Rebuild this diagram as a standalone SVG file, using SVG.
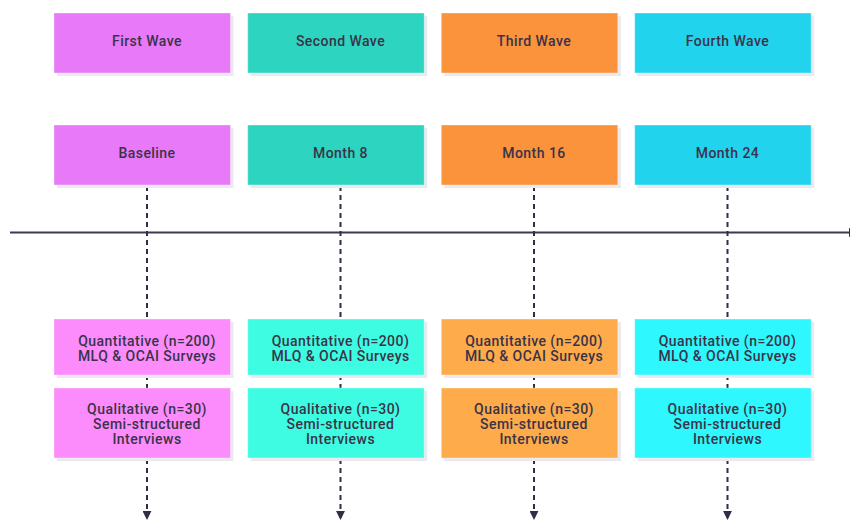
<svg xmlns="http://www.w3.org/2000/svg" width="850" height="521" viewBox="0 0 850 521">
<style>
.sh{fill:#e9e9ee}
.bx{stroke:#ffffff;stroke-opacity:0.35;stroke-width:1}
.t{font-family:Roboto,"Liberation Sans",sans-serif;font-weight:500;font-size:14px;letter-spacing:0.45px;fill:#3a3348;text-anchor:middle}
.d{stroke:#2f2e45;stroke-width:2;stroke-dasharray:5 4;fill:none}
.ax{stroke:#3b3a55;stroke-width:2;fill:none}
</style>
<defs>
<marker id="ah" viewBox="0 0 10 10" refX="9" refY="5" markerWidth="4.5" markerHeight="4.5" orient="auto" markerUnits="strokeWidth">
<path d="M0,0 L10,5 L0,10 z" fill="#2f2e45"/>
</marker>
</defs>
<g id="connectors">
<line class="ax" x1="10" y1="232.5" x2="857" y2="232.5" marker-end="url(#ah)"/>
<line class="d" x1="147" y1="186" x2="147" y2="319"/>
<line class="d" x1="147" y1="375" x2="147" y2="388"/>
<line class="d" x1="147" y1="459" x2="147" y2="519" marker-end="url(#ah)"/>
<line class="d" x1="340.5" y1="186" x2="340.5" y2="319"/>
<line class="d" x1="340.5" y1="375" x2="340.5" y2="388"/>
<line class="d" x1="340.5" y1="459" x2="340.5" y2="519" marker-end="url(#ah)"/>
<line class="d" x1="534" y1="186" x2="534" y2="319"/>
<line class="d" x1="534" y1="375" x2="534" y2="388"/>
<line class="d" x1="534" y1="459" x2="534" y2="519" marker-end="url(#ah)"/>
<line class="d" x1="727.5" y1="186" x2="727.5" y2="319"/>
<line class="d" x1="727.5" y1="375" x2="727.5" y2="388"/>
<line class="d" x1="727.5" y1="459" x2="727.5" y2="519" marker-end="url(#ah)"/>
</g>
<g id="wave1">
<rect class="sh" x="57" y="16" width="176.5" height="60"/>
<rect class="bx" x="54" y="13" width="176.5" height="60" fill="#e879f9"/>
<text class="t" x="147" y="46">First Wave</text>
</g>
<g id="wave2">
<rect class="sh" x="250.7" y="16" width="176.5" height="60"/>
<rect class="bx" x="247.7" y="13" width="176.5" height="60" fill="#2dd4bf"/>
<text class="t" x="340.5" y="46">Second Wave</text>
</g>
<g id="wave3">
<rect class="sh" x="444.3" y="16" width="176.5" height="60"/>
<rect class="bx" x="441.3" y="13" width="176.5" height="60" fill="#fb923c"/>
<text class="t" x="534" y="46">Third Wave</text>
</g>
<g id="wave4">
<rect class="sh" x="637.7" y="16" width="176.5" height="60"/>
<rect class="bx" x="634.7" y="13" width="176.5" height="60" fill="#22d3ee"/>
<text class="t" x="727.5" y="46">Fourth Wave</text>
</g>
<g id="time1">
<rect class="sh" x="57" y="128" width="176.5" height="60"/>
<rect class="bx" x="54" y="125" width="176.5" height="60" fill="#e879f9"/>
<text class="t" x="147" y="158">Baseline</text>
</g>
<g id="time2">
<rect class="sh" x="250.7" y="128" width="176.5" height="60"/>
<rect class="bx" x="247.7" y="125" width="176.5" height="60" fill="#2dd4bf"/>
<text class="t" x="340.5" y="158">Month 8</text>
</g>
<g id="time3">
<rect class="sh" x="444.3" y="128" width="176.5" height="60"/>
<rect class="bx" x="441.3" y="125" width="176.5" height="60" fill="#fb923c"/>
<text class="t" x="534" y="158">Month 16</text>
</g>
<g id="time4">
<rect class="sh" x="637.7" y="128" width="176.5" height="60"/>
<rect class="bx" x="634.7" y="125" width="176.5" height="60" fill="#22d3ee"/>
<text class="t" x="727.5" y="158">Month 24</text>
</g>
<g id="quant1">
<rect class="sh" x="57" y="322" width="176.5" height="56"/>
<rect class="bx" x="54" y="319" width="176.5" height="56" fill="#fc8cfc"/>
<text class="t" x="147" y="345.5">Quantitative (n=200)</text>
<text class="t" x="147" y="360.5">MLQ &amp; OCAI Surveys</text>
</g>
<g id="quant2">
<rect class="sh" x="250.7" y="322" width="176.5" height="56"/>
<rect class="bx" x="247.7" y="319" width="176.5" height="56" fill="#3dfce2"/>
<text class="t" x="340.5" y="345.5">Quantitative (n=200)</text>
<text class="t" x="340.5" y="360.5">MLQ &amp; OCAI Surveys</text>
</g>
<g id="quant3">
<rect class="sh" x="444.3" y="322" width="176.5" height="56"/>
<rect class="bx" x="441.3" y="319" width="176.5" height="56" fill="#fdab4b"/>
<text class="t" x="534" y="345.5">Quantitative (n=200)</text>
<text class="t" x="534" y="360.5">MLQ &amp; OCAI Surveys</text>
</g>
<g id="quant4">
<rect class="sh" x="637.7" y="322" width="176.5" height="56"/>
<rect class="bx" x="634.7" y="319" width="176.5" height="56" fill="#2ef7fd"/>
<text class="t" x="727.5" y="345.5">Quantitative (n=200)</text>
<text class="t" x="727.5" y="360.5">MLQ &amp; OCAI Surveys</text>
</g>
<g id="qual1">
<rect class="sh" x="57" y="391" width="176.5" height="70"/>
<rect class="bx" x="54" y="388" width="176.5" height="70" fill="#fc8cfc"/>
<text class="t" x="147" y="413.5">Qualitative (n=30)</text>
<text class="t" x="147" y="428.5">Semi-structured</text>
<text class="t" x="147" y="443.5">Interviews</text>
</g>
<g id="qual2">
<rect class="sh" x="250.7" y="391" width="176.5" height="70"/>
<rect class="bx" x="247.7" y="388" width="176.5" height="70" fill="#3dfce2"/>
<text class="t" x="340.5" y="413.5">Qualitative (n=30)</text>
<text class="t" x="340.5" y="428.5">Semi-structured</text>
<text class="t" x="340.5" y="443.5">Interviews</text>
</g>
<g id="qual3">
<rect class="sh" x="444.3" y="391" width="176.5" height="70"/>
<rect class="bx" x="441.3" y="388" width="176.5" height="70" fill="#fdab4b"/>
<text class="t" x="534" y="413.5">Qualitative (n=30)</text>
<text class="t" x="534" y="428.5">Semi-structured</text>
<text class="t" x="534" y="443.5">Interviews</text>
</g>
<g id="qual4">
<rect class="sh" x="637.7" y="391" width="176.5" height="70"/>
<rect class="bx" x="634.7" y="388" width="176.5" height="70" fill="#2ef7fd"/>
<text class="t" x="727.5" y="413.5">Qualitative (n=30)</text>
<text class="t" x="727.5" y="428.5">Semi-structured</text>
<text class="t" x="727.5" y="443.5">Interviews</text>
</g>
</svg>
